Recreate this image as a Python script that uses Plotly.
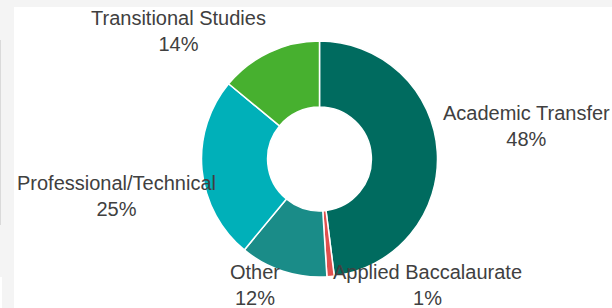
import math
import plotly.graph_objects as go

labels = ["Academic Transfer", "Applied Baccalaurate", "Other", "Professional/Technical", "Transitional Studies"]
values = [48, 1, 12, 25, 14]
colors = ["#006B5F", "#E0504E", "#1A8C88", "#00B0B9", "#47B02F"]

W, H = 612, 308
cx, cy, r = 319.5, 159, 118
FONT = 20
LINE_H = 1.3 * FONT
TEXT_COLOR = "#404040"
FAMILY = "Liberation Sans, Arial, sans-serif"

# Arial / Liberation Sans advance widths (per 1000 em) for label width estimates
ADV = {" ": 278, "/": 278, "%": 889, "A": 667, "B": 667, "O": 778, "P": 667, "S": 667, "T": 611,
       "a": 556, "c": 500, "d": 556, "e": 556, "f": 278, "h": 556, "i": 222, "l": 222, "m": 833,
       "n": 556, "o": 556, "p": 556, "r": 333, "s": 500, "t": 278, "u": 556}


def text_w(s):
    return sum(ADV.get(ch, 556) for ch in s) * FONT / 1000.0


fig = go.Figure(go.Pie(
    labels=labels,
    values=values,
    hole=0.44,
    sort=False,
    direction="clockwise",
    rotation=0,
    marker=dict(colors=colors, line=dict(color="white", width=1.5)),
    textinfo="none",
    hoverinfo="label+percent",
    showlegend=False,
    domain=dict(x=[(cx - r) / W, (cx + r) / W], y=[1 - (cy + r) / H, 1 - (cy - r) / H]),
))

# Outside labels: box corner placed at the slice mid-angle just outside the ring,
# kept inside the white panel.
total = float(sum(values))
annotations = []
cum = 0.0
GX, GY = 4, -3
LEFT, RIGHT, TOP, BOTTOM = 15, 612, 7, 309
for lab, v in zip(labels, values):
    mid = (cum + v / 2.0) / total * 2 * math.pi
    cum += v
    ux, uy = math.sin(mid), -math.cos(mid)
    pct = "{:.0f}%".format(v / total * 100)
    lines = [lab, pct]
    bw = max(text_w(s) for s in lines) + 2
    bh = 1.117 * FONT + LINE_H * (len(lines) - 1) + 2
    ax = cx + (r + GX) * ux
    ay = cy + (r + GY) * uy
    if ux >= 0:
        xan = "left"
        ax = min(ax, RIGHT - bw)
    else:
        xan = "right"
        ax = max(ax, LEFT + bw)
    if uy < 0:
        yan = "bottom"
        ay = max(ay, TOP + bh)
    else:
        yan = "top"
        ay = min(ay, BOTTOM - bh)
    annotations.append(dict(
        x=ax / W, y=1 - ay / H, xref="paper", yref="paper",
        xanchor=xan, yanchor=yan, text="<br>".join(lines), showarrow=False,
        align="center", font=dict(family=FAMILY, size=FONT, color=TEXT_COLOR),
    ))

fig.update_layout(
    width=W, height=H,
    margin=dict(l=0, r=0, t=0, b=0),
    paper_bgcolor="#F4F4F4",
    annotations=annotations,
    shapes=[
        dict(type="rect", xref="paper", yref="paper", x0=14 / W, x1=1, y0=0, y1=1 - 7 / H,
             fillcolor="white", line=dict(width=0), layer="below"),
        dict(type="line", xref="paper", yref="paper", x0=0.5 / W, x1=0.5 / W,
             y0=1 - 225 / H, y1=1 - 40 / H, line=dict(color="#DADADA", width=1), layer="below"),
        dict(type="rect", xref="paper", yref="paper", x0=0, x1=2 / W, y0=0, y1=1 - 277 / H,
             fillcolor="white", line=dict(width=0), layer="below"),
    ],
)

fig.write_html("out.html", config={"displayModeBar": False},
               post_script="document.body.style.margin='0';")
